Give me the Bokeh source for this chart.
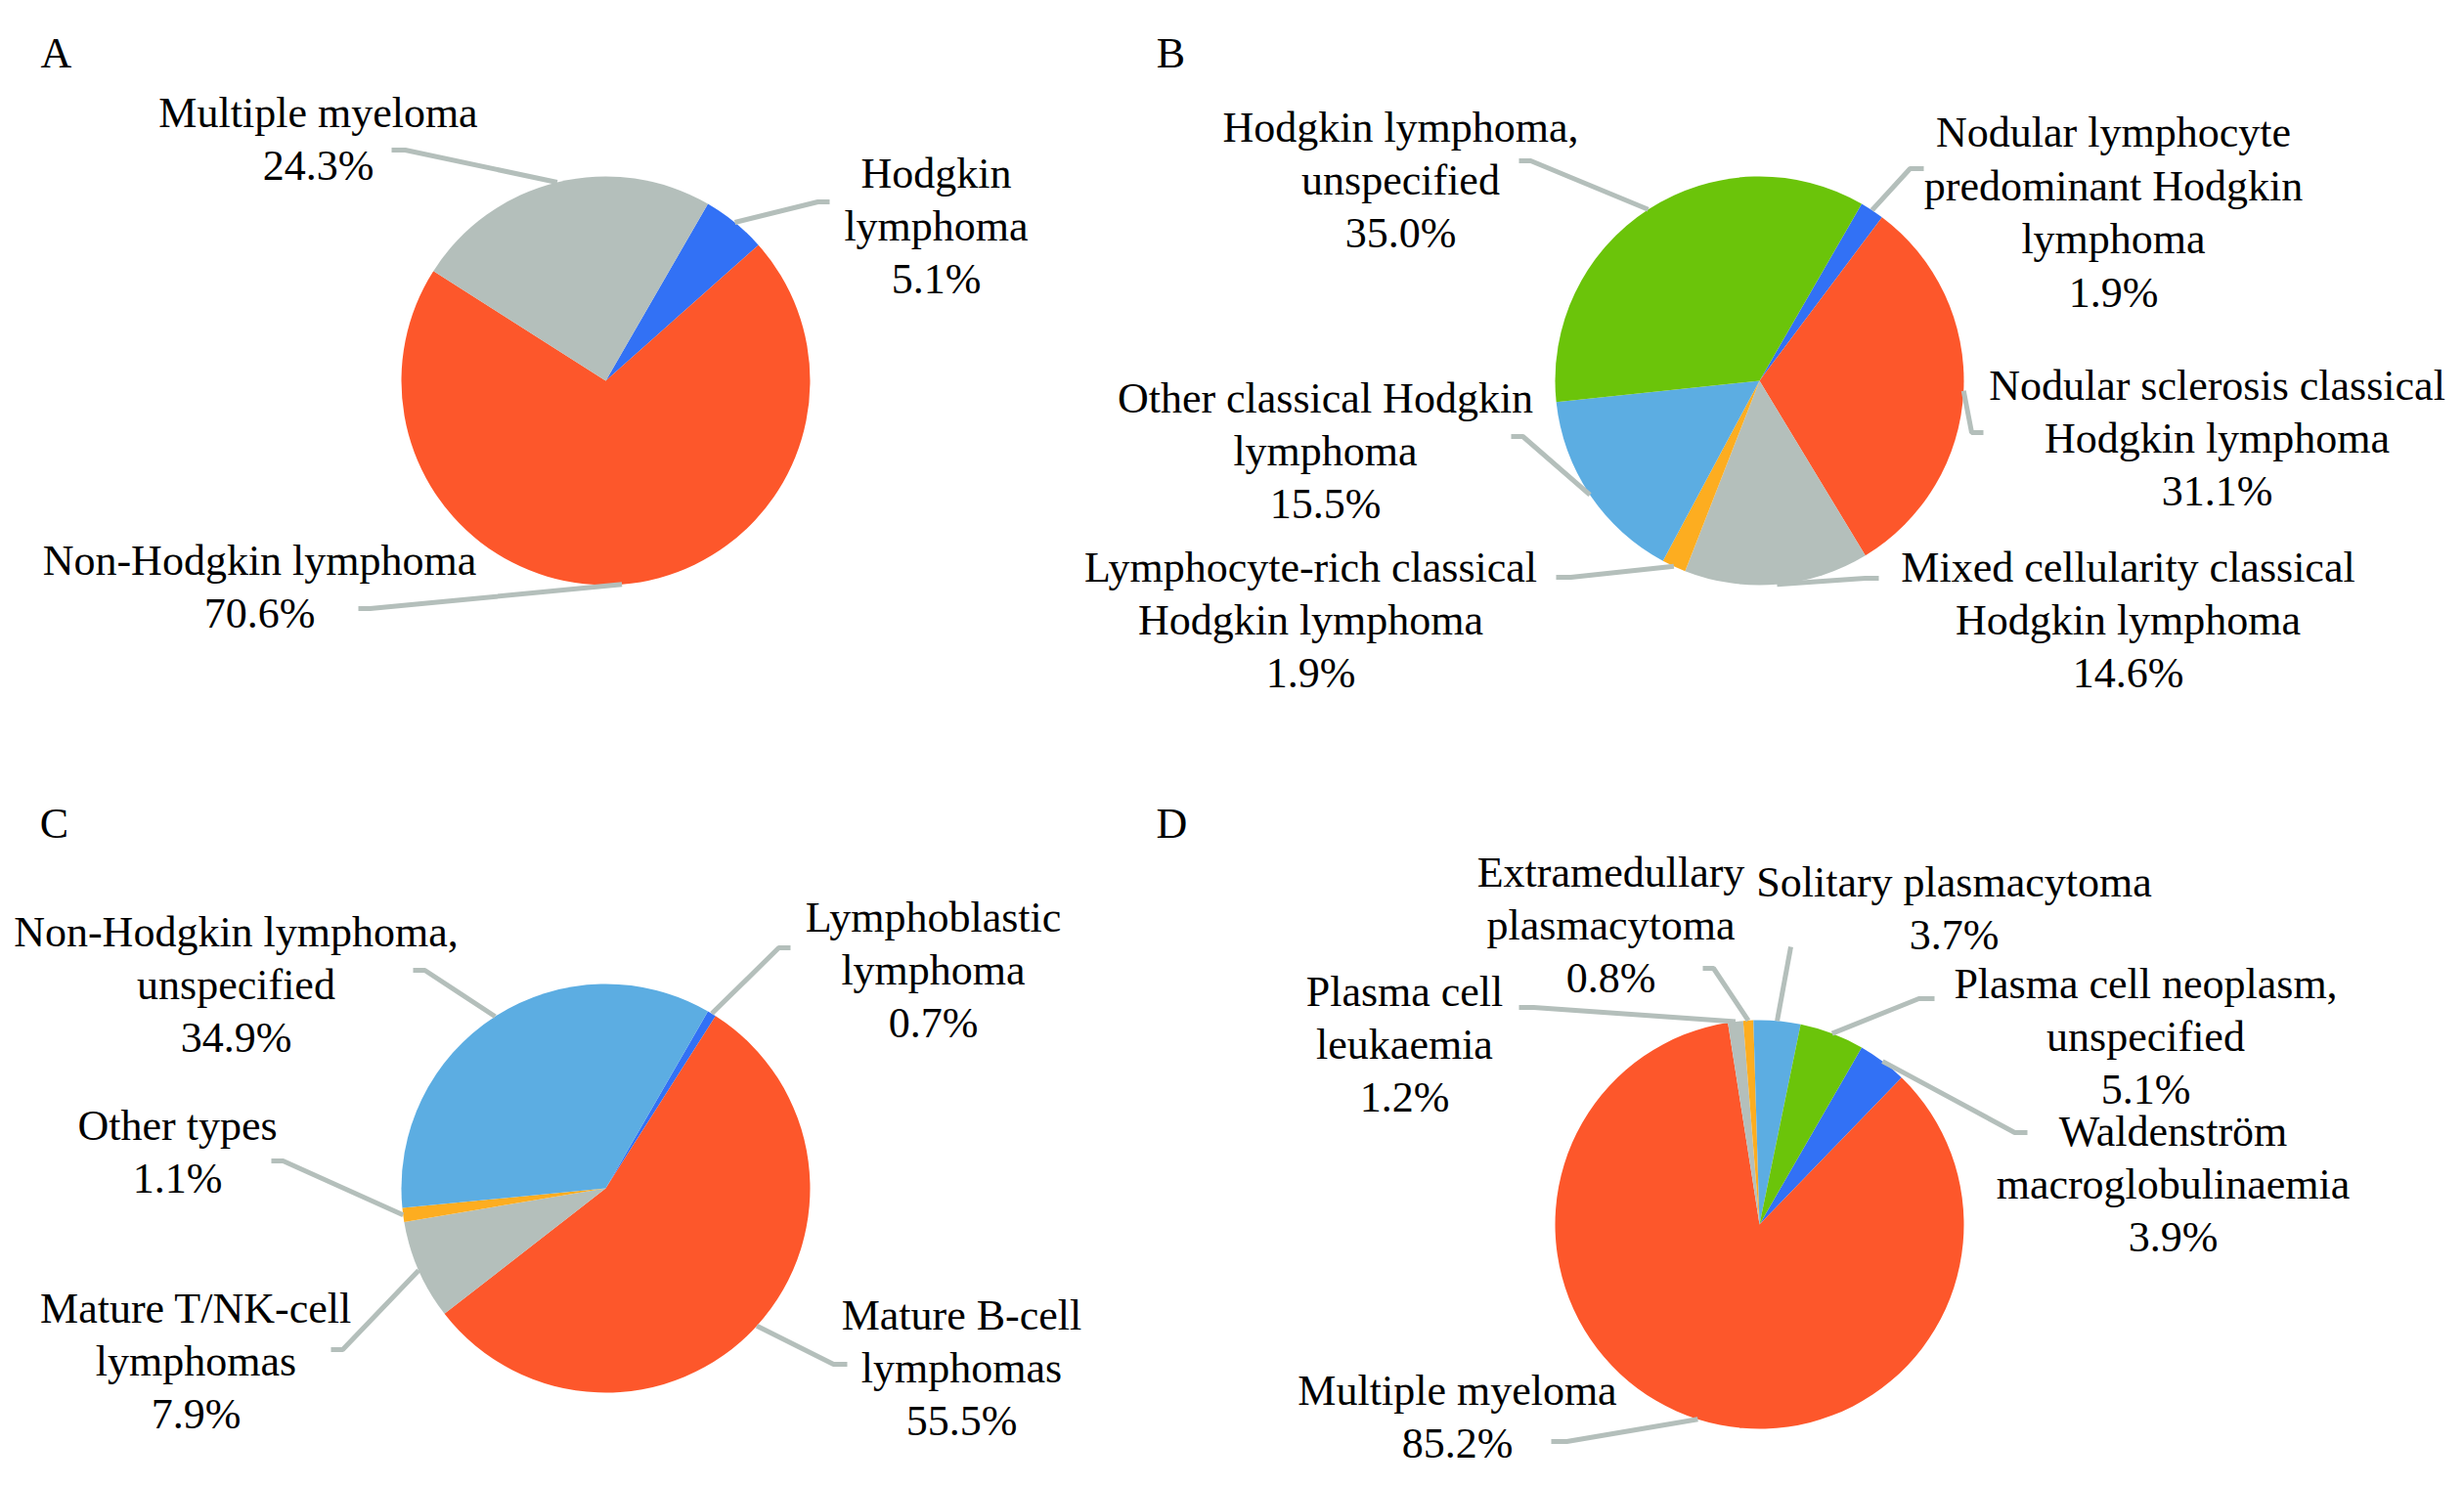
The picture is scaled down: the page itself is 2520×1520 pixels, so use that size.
import math
from bokeh.plotting import figure
from bokeh.models import Range1d, ColumnDataSource
from bokeh.core.properties import value
from bokeh.embed import file_html
from bokeh.resources import INLINE

# ---------------- data (clockwise order, first slice at 30 degrees) ----------------
a_categories = ["Hodgkin\nlymphoma", "Non-Hodgkin lymphoma", "Multiple myeloma"]
a_values = [5.1, 70.6, 24.3]

b_categories = ["Nodular lymphocyte\npredominant Hodgkin\nlymphoma",
                "Nodular sclerosis classical\nHodgkin lymphoma",
                "Mixed cellularity classical\nHodgkin lymphoma",
                "Lymphocyte-rich classical\nHodgkin lymphoma",
                "Other classical Hodgkin\nlymphoma",
                "Hodgkin lymphoma,\nunspecified"]
b_values = [1.9, 31.1, 14.6, 1.9, 15.5, 35.0]

c_categories = ["Lymphoblastic\nlymphoma", "Mature B-cell\nlymphomas",
                "Mature T/NK-cell\nlymphomas", "Other types",
                "Non-Hodgkin lymphoma,\nunspecified"]
c_values = [0.7, 55.5, 7.9, 1.1, 34.9]

d_categories = ["Waldenström\nmacroglobulinaemia", "Multiple myeloma",
                "Plasma cell\nleukaemia", "Extramedullary\nplasmacytoma",
                "Solitary plasmacytoma", "Plasma cell neoplasm,\nunspecified"]
d_values = [3.9, 85.2, 1.2, 0.8, 3.7, 5.1]

# ---------------- styles ----------------
ORANGE = "#FD572B"
BLUE = "#3271F5"
GREY = "#B4BFBB"
GREEN = "#6BC40A"
LBLUE = "#5CADE2"
YELLOW = "#FDAD20"
LEADER = "#B4BFBB"
FONT = "Liberation Serif"
FSIZE = "44px"
RADIUS = 209
FIRST_ANGLE = 30.0

a_colors = [BLUE, ORANGE, GREY]
b_colors = [BLUE, ORANGE, GREY, YELLOW, LBLUE, GREEN]
c_colors = [BLUE, ORANGE, GREY, YELLOW, LBLUE]
d_colors = [BLUE, ORANGE, GREY, YELLOW, LBLUE, GREEN]

# ---------------- layout (page pixel positions) ----------------
a_layout = dict(letter="A", letter_xy=(57, 54), center=(619, 389),
                label_xy=[(957, 231), (265, 600), (325, 142)],
                leader=[((848, 206), (836, 206)), ((366, 622), (378, 622)), ((400, 153), (414, 153))])
b_layout = dict(letter="B", letter_xy=(1197, 54), center=(1799, 389),
                label_xy=[(2161, 217), (2267, 448), (2176, 634), (1340, 634), (1355, 461), (1432, 184)],
                leader=[((1967, 172), (1953, 172)), ((2028, 442), (2016, 442)), ((1921, 591), (1907, 591)),
                        ((1591, 590), (1606, 590)), ((1545, 446), (1557, 446)), ((1553, 164), (1565, 164))])
c_layout = dict(letter="C", letter_xy=(55, 842), center=(619, 1215),
                label_xy=[(954, 992), (983, 1399), (200, 1392), (181, 1178), (241, 1007)],
                leader=[((808, 969), (796, 969)), ((866, 1395), (852, 1395)), ((338, 1380), (350, 1380)),
                        ((277, 1187), (289, 1187)), ((422, 992), (434, 992))])
d_layout = dict(letter="D", letter_xy=(1198, 842), center=(1799, 1252),
                label_xy=[(2222, 1211), (1490, 1449), (1436, 1068), (1647, 946), (1998, 929), (2194, 1060)],
                leader=[((2073, 1158), (2060, 1158)), ((1586, 1474), (1602, 1474)), ((1553, 1030), (1568, 1030)),
                        ((1741, 990), (1752, 990)), ((1831, 968), (1831, 968)), ((1978, 1021), (1962, 1021))])

W, H = 2504, 1504
p = figure(width=W, height=H, x_range=Range1d(0, W), y_range=Range1d(-H, 0),
           output_backend="svg", toolbar_location=None, min_border=0,
           x_axis_location=None, y_axis_location=None)
p.grid.visible = False
p.outline_line_color = None
p.background_fill_color = "white"
p.border_fill_color = "white"


def panel(cats, vals, colors, lay):
    cx, cy = lay["center"]
    total = sum(vals)
    starts, ends, mids = [], [], []
    acc = FIRST_ANGLE
    for v in vals:
        sweep = 360.0 * v / total
        starts.append(acc)
        ends.append(acc + sweep)
        mids.append(acc + sweep / 2)
        acc += sweep
    src = ColumnDataSource(dict(
        x=[cx] * len(vals), y=[-cy] * len(vals),
        start=[math.radians(90 - s) for s in starts],
        end=[math.radians(90 - e) for e in ends],
        color=colors))
    p.wedge(x="x", y="y", radius=RADIUS, start_angle="start", end_angle="end",
            direction="clock", fill_color="color", line_color=None, source=src)

    xs, ys = [], []
    for (s, e), m in zip(lay["leader"], mids):
        ex = cx + RADIUS * math.sin(math.radians(m))
        ey = cy - RADIUS * math.cos(math.radians(m))
        xs.append([s[0], e[0], ex])
        ys.append([-s[1], -e[1], -ey])
    p.multi_line(xs=xs, ys=ys, line_color=LEADER, line_width=5)

    texts = [f"{c}\n{v:.1f}%" for c, v in zip(cats, vals)]
    lsrc = ColumnDataSource(dict(x=[q[0] for q in lay["label_xy"]],
                                 y=[-q[1] for q in lay["label_xy"]], text=texts))
    p.text(x="x", y="y", text="text", source=lsrc, text_align="center", text_baseline="middle",
           text_font=value(FONT), text_font_size=FSIZE, text_color="black", text_line_height=1.11)

    lx, ly = lay["letter_xy"]
    p.text(x=[lx], y=[-ly], text=[lay["letter"]], text_align="center", text_baseline="alphabetic",
           text_font=value(FONT), text_font_size=FSIZE, text_color="black")


panel(a_categories, a_values, a_colors, a_layout)
panel(b_categories, b_values, b_colors, b_layout)
panel(c_categories, c_values, c_colors, c_layout)
panel(d_categories, d_values, d_colors, d_layout)

open("out.html", "w").write(file_html(p, INLINE))
